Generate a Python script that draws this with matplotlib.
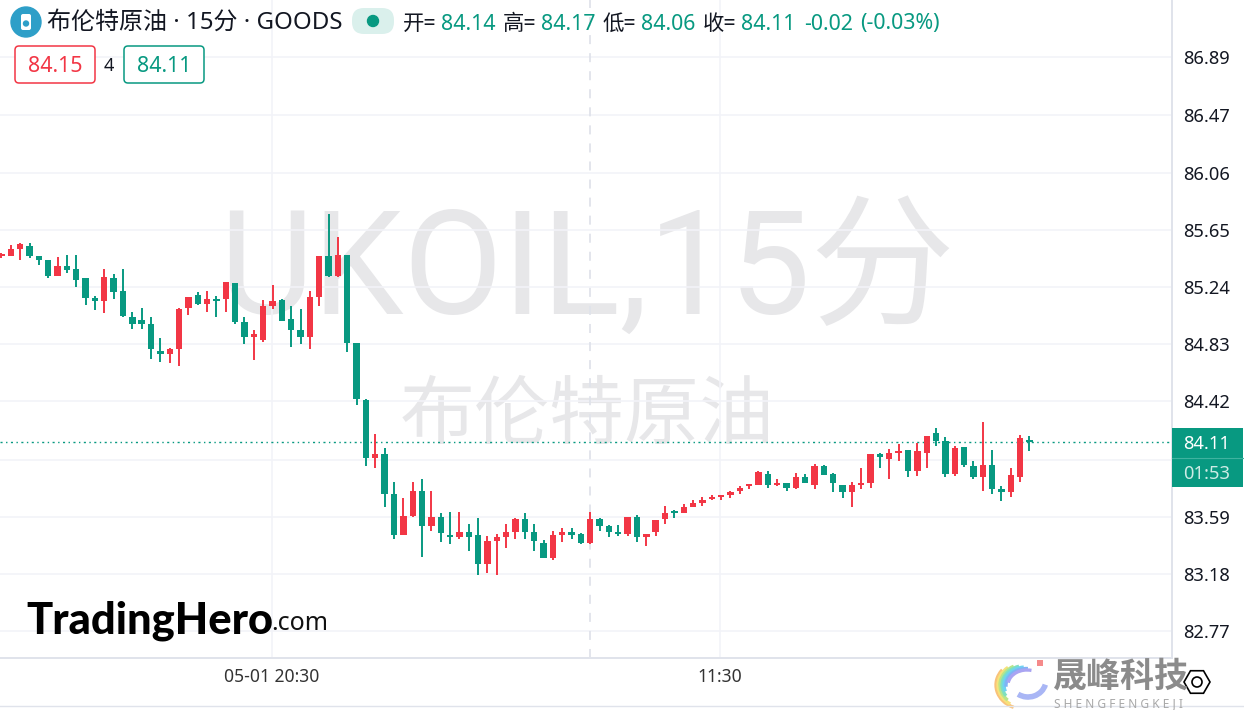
import matplotlib
matplotlib.use("Agg")
import matplotlib.pyplot as plt
from matplotlib.patches import Circle, FancyBboxPatch, Arc, RegularPolygon, Rectangle

plt.rcParams['font.family'] = ['Noto Sans', 'Noto Sans CJK SC', 'DejaVu Sans']

# 15 minute candles
opens = [85.46, 85.46, 85.51, 85.53, 85.46, 85.43, 85.32, 85.39, 85.37, 85.30, 85.16, 85.14, 85.30, 85.21,
         85.02, 85.00, 84.97, 84.78, 84.76, 84.79, 85.09, 85.18, 85.12, 85.15, 85.15, 85.27, 84.99, 84.88,
         84.86, 85.10, 85.145, 85.01, 84.93, 84.88, 85.17, 85.46, 85.32, 85.47, 84.835, 84.425, 84.01, 84.04,
         83.755, 83.46, 83.595, 83.775, 83.52, 83.585, 83.455, 83.445, 83.48, 83.455, 83.25, 83.415, 83.445,
         83.48, 83.575, 83.48, 83.40, 83.295, 83.455, 83.48, 83.465, 83.40, 83.575, 83.52, 83.48, 83.465,
         83.585, 83.445, 83.48, 83.575, 83.628, 83.616, 83.66, 83.69, 83.72, 83.733, 83.745, 83.776, 83.81,
         83.819, 83.896, 83.819, 83.831, 83.798, 83.874, 83.819, 83.951, 83.896, 83.819, 83.766, 83.819,
         83.831, 84.037, 84.003, 84.046, 84.068, 83.917, 84.046, 84.188, 84.133, 83.896, 84.089, 83.951,
         83.874, 83.96, 83.788, 83.766, 83.874, 84.14]
highs = [85.48, 85.54, 85.555, 85.555, 85.46, 85.43, 85.455, 85.47, 85.47, 85.30, 85.175, 85.37, 85.33, 85.37,
         85.06, 85.09, 85.02, 84.87, 84.80, 85.09, 85.17, 85.20, 85.21, 85.175, 85.275, 85.27, 85.02, 84.93,
         85.145, 85.25, 85.15, 85.10, 85.08, 85.21, 85.46, 85.76, 85.60, 85.47, 84.835, 84.435, 84.18, 84.08,
         83.84, 83.725, 83.84, 83.86, 83.775, 83.615, 83.625, 83.625, 83.54, 83.58, 83.45, 83.465, 83.54,
         83.58, 83.615, 83.54, 83.425, 83.49, 83.51, 83.51, 83.47, 83.625, 83.58, 83.53, 83.53, 83.585,
         83.60, 83.465, 83.565, 83.666, 83.637, 83.68, 83.71, 83.73, 83.747, 83.743, 83.774, 83.81, 83.819,
         83.917, 83.917, 83.86, 83.831, 83.903, 83.896, 83.967, 83.96, 83.903, 83.819, 83.838, 83.939,
         84.037, 84.046, 84.075, 84.111, 84.068, 84.118, 84.166, 84.226, 84.161, 84.097, 84.089, 83.989,
         84.269, 84.068, 83.81, 83.939, 84.176, 84.17]
lows = [85.45, 85.46, 85.43, 85.45, 85.40, 85.30, 85.32, 85.34, 85.24, 85.11, 85.07, 85.05, 85.15, 85.02,
        84.94, 84.94, 84.72, 84.70, 84.69, 84.67, 85.04, 85.11, 85.06, 85.02, 85.06, 84.975, 84.83, 84.715,
        84.845, 85.08, 84.995, 84.81, 84.83, 84.79, 85.10, 85.31, 85.31, 84.77, 84.39, 83.95, 83.94, 83.66,
        83.43, 83.46, 83.585, 83.30, 83.49, 83.41, 83.39, 83.43, 83.345, 83.17, 83.185, 83.17, 83.365,
        83.43, 83.43, 83.34, 83.295, 83.28, 83.41, 83.43, 83.39, 83.39, 83.49, 83.445, 83.45, 83.45,
        83.41, 83.38, 83.45, 83.537, 83.58, 83.616, 83.66, 83.666, 83.709, 83.709, 83.723, 83.752, 83.788,
        83.819, 83.795, 83.81, 83.774, 83.788, 83.831, 83.788, 83.886, 83.766, 83.723, 83.659, 83.788,
        83.795, 83.939, 83.86, 83.989, 83.874, 83.881, 83.939, 84.099, 83.874, 83.881, 83.946, 83.86,
        83.774, 83.752, 83.702, 83.731, 83.838, 84.06]
closes = [85.47, 85.51, 85.55, 85.46, 85.43, 85.32, 85.39, 85.36, 85.29, 85.16, 85.14, 85.31, 85.20, 85.03,
          84.97, 84.97, 84.79, 84.76, 84.79, 85.08, 85.17, 85.12, 85.15, 85.14, 85.275, 84.99, 84.88, 84.90,
          85.10, 85.14, 84.995, 84.93, 84.88, 85.17, 85.46, 85.32, 85.47, 84.835, 84.435, 84.01, 84.04, 83.75,
          83.46, 83.595, 83.775, 83.52, 83.585, 83.47, 83.445, 83.48, 83.445, 83.25, 83.415, 83.445, 83.48,
          83.575, 83.48, 83.415, 83.295, 83.455, 83.48, 83.455, 83.40, 83.575, 83.52, 83.48, 83.465, 83.585,
          83.445, 83.465, 83.565, 83.615, 83.616, 83.66, 83.69, 83.71, 83.73, 83.743, 83.767, 83.797, 83.819,
          83.91, 83.819, 83.831, 83.798, 83.874, 83.831, 83.951, 83.886, 83.831, 83.766, 83.819, 83.831,
          84.037, 84.015, 84.046, 84.056, 83.917, 84.058, 84.166, 84.133, 83.896, 84.08, 83.96, 83.874,
          83.96, 83.788, 83.766, 83.886, 84.154, 84.125]

grid_prices = [86.89, 86.47, 86.06, 85.65, 85.24, 84.83, 84.42, 84.0, 83.59, 83.18, 82.77]
price_labels = ['86.89', '86.47', '86.06', '85.65', '85.24', '84.83', '84.42', '', '83.59', '83.18', '82.77']
time_ticks = [28.95, 76.9]
time_labels = ['05-01 20:30', '11:30']
hover_index = 63
last_price = 84.125

GREEN = '#089981'
RED = '#F23645'
GRID = '#F2F3F8'
BORDER = '#E0E3EB'
WATERMARK = '#E7E7E9'
W, H = 1244, 710

fig = plt.figure(figsize=(W / 100, H / 100), dpi=100, facecolor='white')

# main chart, 1172x658 px at the top left
ax = fig.add_axes([0, (H - 658) / H, 1172 / W, 658 / H])
ax.set_zorder(1)
ax.patch.set_alpha(0)
ax.set_xlim(-0.16, 125.25)
ax.set_ylim(82.575, 87.299)
for s in ['top', 'left']:
    ax.spines[s].set_visible(False)
for s in ['right', 'bottom']:
    ax.spines[s].set_color(BORDER)
    ax.spines[s].set_linewidth(1.4)
ax.yaxis.tick_right()
ax.set_yticks(grid_prices, price_labels, fontsize=13.2, color='#131722')
ax.set_xticks(time_ticks, time_labels, fontsize=12.6, color='#333333')
ax.tick_params(axis='y', length=0, pad=8)
ax.tick_params(axis='x', length=0, pad=7.5)
ax.grid(True, color=GRID, linewidth=1.2)
ax.set_axisbelow(True)

# big watermark behind the candles
fig_px = lambda x, y: (x / W, 1 - y / H)
fig.text(*fig_px(587, 314), 'UKOIL,15分', fontsize=104, family=['Roboto', 'Noto Sans CJK SC'],
         color=WATERMARK, ha='center', va='baseline', zorder=0.5)
fig.text(*fig_px(587, 418), '布伦特原油', fontsize=54, color=WATERMARK, ha='center', va='center', zorder=0.5)

ax.axvline(hover_index, color=BORDER, lw=1.3, ls=(0, (5, 5)), zorder=1)
ax.axhline(last_price, color=GREEN, lw=1, ls=(0, (1.5, 2.5, 1, 2.5)), zorder=1.5)

for i in range(len(opens)):
    col = RED if closes[i] >= opens[i] else GREEN
    ax.vlines(i, lows[i], highs[i], color=col, lw=1.4, zorder=2)
    bottom = min(opens[i], closes[i])
    ax.bar(i, max(abs(closes[i] - opens[i]), 0.012), bottom=bottom, width=0.68, color=col, zorder=3)

# header, badges and other chrome in pixel coordinates
ov = fig.add_axes([0, 0, 1, 1])
ov.set_zorder(2)
ov.set_xlim(0, W)
ov.set_ylim(H, 0)
ov.axis('off')
ov.patch.set_alpha(0)

ov.add_patch(Circle((26, 22), 15, color='#2E9FC8'))
ov.add_patch(FancyBboxPatch((21, 14), 10, 16, boxstyle='round,pad=0,rounding_size=2', fc='white', ec='none'))
ov.add_patch(Circle((26, 23.5), 2.5, color='#2E9FC8'))
ov.text(47, 23, '布伦特原油 · 15分 · GOODS', fontsize=17.3, color='#131722', va='center', ha='left')
ov.add_patch(FancyBboxPatch((352, 8), 42, 26, boxstyle='round,pad=0,rounding_size=12', fc='#DAF0EC', ec='none'))
ov.add_patch(Circle((373, 21), 5.5, color=GREEN))

ohlc_parts = [(403, '开=', '#131722'), (441, '84.14', GREEN), (503, '高=', '#131722'), (541, '84.17', GREEN),
              (603, '低=', '#131722'), (641, '84.06', GREEN), (703, '收=', '#131722'), (741, '84.11', GREEN),
              (804, '-0.02', GREEN), (860, '(-0.03%)', GREEN)]
for x, s, c in ohlc_parts:
    ov.text(x, 24, s, fontsize=15.4, color=c, va='center', ha='left')

ov.add_patch(FancyBboxPatch((15, 46), 80, 37, boxstyle='round,pad=0,rounding_size=4', fc='white', ec=RED, lw=1.1))
ov.add_patch(FancyBboxPatch((124, 46), 80, 37, boxstyle='round,pad=0,rounding_size=4', fc='white', ec=GREEN, lw=1.1))
ov.text(55, 66, '84.15', fontsize=15.4, color=RED, ha='center', va='center')
ov.text(109, 66, '4', fontsize=13, color='#131722', ha='center', va='center')
ov.text(164, 66, '84.11', fontsize=15.4, color=GREEN, ha='center', va='center')

# last price tag
ov.add_patch(Rectangle((1172, 428), 71, 59, fc=GREEN, ec='none'))
ov.plot([1172, 1243], [457.5, 457.5], color='#3FB3A0', lw=0.8)
ov.text(1207, 444, '84.11', fontsize=13.2, color='white', ha='center', va='center')
ov.text(1207, 474, '01:53', fontsize=13.2, color='#CDEBE5', ha='center', va='center')

# logos
ov.text(26, 621, 'TradingHero', fontsize=31.3, fontweight='black', family=['Lato', 'DejaVu Sans'],
        color='black', ha='left', va='center')
ov.text(271, 623, '.com', fontsize=18, color='#111111', ha='left', va='center')

ov.plot([0, W], [706, 706], color=BORDER, lw=1)
ov.add_patch(Rectangle((995, 660), 205, 45, fc='white', ec='none'))
swirl = ['#F9C27A', '#F7E27A', '#B9E58A', '#7FE0C0', '#6FD3F0', '#7FB4F5', '#A9A4F2']
for k, c in enumerate(swirl):
    ov.add_patch(Arc((1024 + k * 0.5, 685), 56 - k * 3, 48 - k * 3, theta1=115 + k * 12, theta2=215 + k * 12, color=c, lw=2.4))
ov.add_patch(Arc((1028, 680), 36, 34, theta1=15, theta2=125, color='#A9B6F5', lw=4))
ov.add_patch(Rectangle((1037, 660), 6, 6, fc='#F58A8A', ec='none'))
ov.text(1121, 678, '晟峰科技', fontsize=24.5, fontweight='bold', color='#8B8B8B', ha='center', va='center')
ov.text(1119, 704, 'S H E N G F E N G K E J I', fontsize=8.6, color='#A8A8A8', ha='center', va='center')
ov.add_patch(RegularPolygon((1197, 682), 6, radius=13, orientation=1.5708 / 3, fc='white', ec='black', lw=1.2))
ov.add_patch(Circle((1197, 682), 5, fc='white', ec='black', lw=1.2))

fig.savefig('out.png', dpi=100, facecolor='white')
